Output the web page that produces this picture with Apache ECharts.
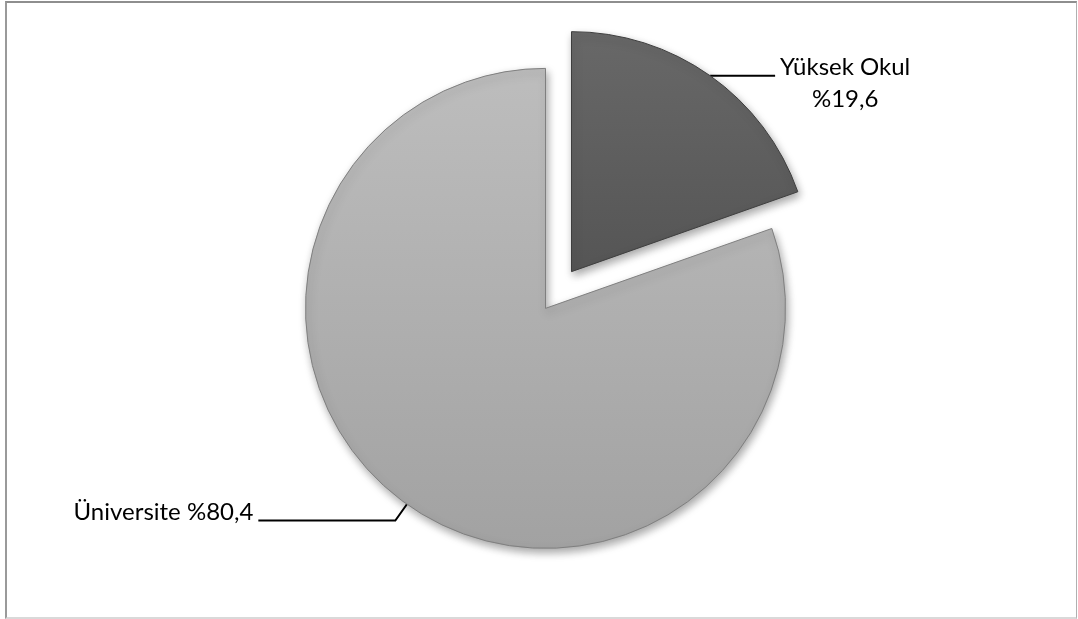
<!DOCTYPE html>
<html>
<head>
<meta charset="utf-8">
<script src="https://cdn.jsdelivr.net/npm/echarts@6/dist/echarts.min.js"></script>
<style>
  html, body { margin: 0; padding: 0; background: #fff; }
  #wrap { position: relative; width: 1078px; height: 619px; overflow: hidden; }
  #frame { position: absolute; left: 5px; top: 1px; width: 1069px; height: 614px;
    border-left: 2px solid #9a9a9a; border-top: 2px solid #8e8e8e; border-right: 1px solid #b0b0b0;
    border-bottom: 2px solid #d9d9d9; box-sizing: content-box; }
  #chart { position: absolute; left: 0; top: 0; width: 1078px; height: 619px; }
</style>
</head>
<body>
<div id="wrap">
  <div id="frame"></div>
  <div id="chart"></div>
</div>
<script>
const categories = ['Yüksek Okul', 'Üniversite'];
const values = [19.6, 80.4];

const fmtPct = v => '%' + v.toFixed(1).replace('.', ',');

const fills = [
  { type: 'linear', x: 0, y: 0, x2: 0, y2: 1, colorStops: [
    { offset: 0, color: '#686868' }, { offset: 1, color: '#555555' } ] },
  { type: 'linear', x: 0, y: 0, x2: 0, y2: 1, colorStops: [
    { offset: 0, color: '#bdbdbd' }, { offset: 1, color: '#a2a2a2' } ] }
];
const borders = ['#3e3e3e', '#7f7f7f'];
const lineCfg = [
  { length: 0, length2: 65 },
  { length: 20, length2: 137 }
];
const labelPad = [[16, 0, 0, 0], [0, 0, 16, 0]];

const data = categories.map((name, i) => ({
  name: name,
  value: values[i],
  selected: true,
  itemStyle: { color: fills[i], borderColor: borders[i], borderWidth: 1 },
  labelLine: lineCfg[i],
  label: { padding: labelPad[i] }
}));

const chart = echarts.init(document.getElementById('chart'), null, { renderer: 'canvas' });
chart.setOption({
  animation: false,
  backgroundColor: 'transparent',
  series: [{
    type: 'pie',
    center: [558.5, 290],
    radius: 240,
    startAngle: 90,
    clockwise: true,
    selectedMode: 'multiple',
    selectedOffset: 22.5,
    avoidLabelOverlap: false,
    itemStyle: {
      shadowBlur: 8,
      shadowOffsetX: 2,
      shadowOffsetY: 4,
      shadowColor: 'rgba(0,0,0,0.35)'
    },
    emphasis: { disabled: true },
    label: {
      show: true,
      position: 'outside',
      fontFamily: 'Lato',
      fontSize: 24,
      color: '#000',
      lineHeight: 32,
      distanceToLabelLine: 5,
      formatter: p => p.dataIndex === 0
        ? '{a|' + p.name + '}\n{c|' + fmtPct(p.value) + '}'
        : p.name + ' ' + fmtPct(p.value),
      rich: {
        a: { fontFamily: 'Lato', fontSize: 24, lineHeight: 32, color: '#000' },
        c: { fontFamily: 'Lato', fontSize: 24, lineHeight: 32, color: '#000', align: 'center' }
      }
    },
    labelLine: {
      show: true,
      smooth: false,
      lineStyle: { color: '#000', width: 2 }
    },
    data: data
  }]
});
</script>
</body>
</html>
